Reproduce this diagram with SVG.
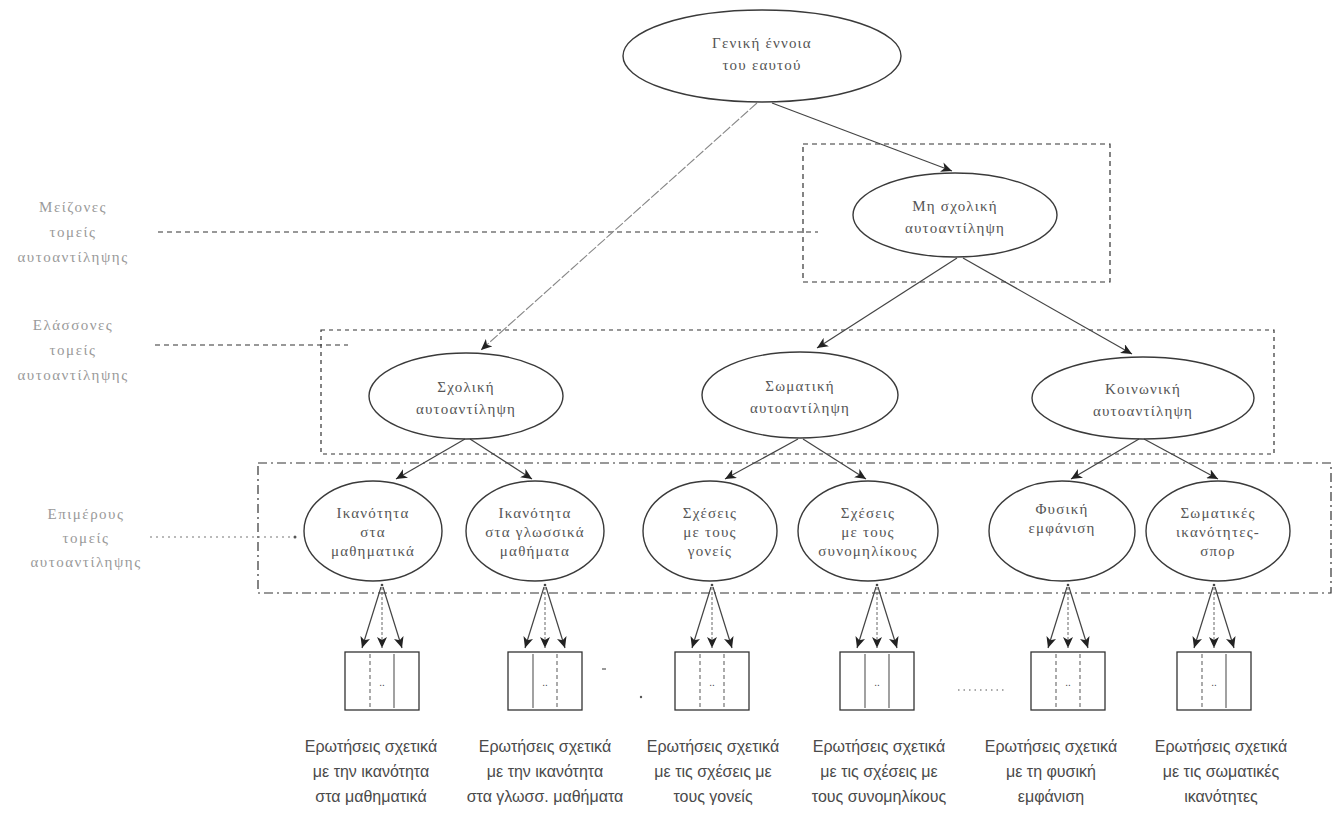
<svg xmlns="http://www.w3.org/2000/svg" width="1334" height="813" viewBox="0 0 1334 813">
<style>
.bg{fill:#fff}
.ell{fill:none;stroke:#3a3a3a;stroke-width:1.4}
.et{font-family:"Liberation Serif","DejaVu Serif",serif;font-size:15px;fill:#555;text-anchor:middle;letter-spacing:1.2px}
.lt{font-family:"Liberation Serif","DejaVu Serif",serif;font-size:15px;fill:#9a9a9a;text-anchor:middle;letter-spacing:1.5px}
.bt{font-family:"Liberation Sans","DejaVu Sans",sans-serif;font-size:16px;fill:#4a4a4a;text-anchor:middle}
.con{stroke:#444;stroke-width:1.2;fill:none}
.conl{stroke:#888;stroke-width:1.1;fill:none;stroke-dasharray:10 2}
.dash{stroke:#333;stroke-width:1.2;fill:none;stroke-dasharray:5 4}
.dashd{stroke:#333;stroke-width:1.2;fill:none;stroke-dasharray:4 4}
.dashdot{stroke:#333;stroke-width:1.2;fill:none;stroke-dasharray:9 4 2 4}
.dot{stroke:#777;stroke-width:1.2;fill:none;stroke-dasharray:2 4}
.box{fill:none;stroke:#333;stroke-width:1.3}
.inner{stroke:#555;stroke-width:1.1}
.innerd{stroke:#666;stroke-width:1.1;stroke-dasharray:4 3}
.mid{stroke:#666;stroke-width:1;stroke-dasharray:3 2;fill:none}
.dd{font-family:"Liberation Sans","DejaVu Sans",sans-serif;font-size:10px;fill:#444;text-anchor:middle}
</style>
<defs>
<marker id="ah" markerWidth="12" markerHeight="10" refX="11" refY="5" orient="auto" markerUnits="userSpaceOnUse">
<path d="M0,0 L11,5 L0,10 L3,5 z" fill="#222"/>
</marker>
</defs>
<rect class="bg" x="0" y="0" width="1334" height="813"/>

<g id="frames">
<rect class="dash" x="803" y="144" width="307" height="138"/>
<rect class="dashd" x="321" y="330" width="953" height="124"/>
<rect class="dashdot" x="258" y="463" width="1073" height="130"/>
</g>

<g id="level-labels">
<g id="label-major">
<text class="lt" x="73" y="212">Μείζονες</text>
<text class="lt" x="73" y="237">τομείς</text>
<text class="lt" x="73" y="262">αυτοαντίληψης</text>
<line class="dash" x1="158" y1="232" x2="818" y2="232"/>
</g>
<g id="label-minor">
<text class="lt" x="73" y="330">Ελάσσονες</text>
<text class="lt" x="73" y="355">τομείς</text>
<text class="lt" x="73" y="380">αυτοαντίληψης</text>
<line class="dash" x1="155" y1="345" x2="348" y2="345"/>
</g>
<g id="label-sub">
<text class="lt" x="86" y="519">Επιμέρους</text>
<text class="lt" x="86" y="543">τομείς</text>
<text class="lt" x="86" y="567">αυτοαντίληψης</text>
<line class="dot" x1="150" y1="537" x2="292" y2="537"/>
<circle cx="295" cy="537" r="1.5" fill="#555"/>
</g>
</g>

<g id="connectors">
<line class="conl" x1="757" y1="103" x2="481" y2="350" marker-end="url(#ah)"/>
<line class="con" x1="772" y1="103" x2="952" y2="171" marker-end="url(#ah)"/>
<line class="con" x1="957" y1="258" x2="817" y2="348" marker-end="url(#ah)"/>
<line class="con" x1="963" y1="258" x2="1132" y2="354" marker-end="url(#ah)"/>
<line class="con" x1="465" y1="439" x2="396" y2="479" marker-end="url(#ah)"/>
<line class="con" x1="470" y1="439" x2="532" y2="479" marker-end="url(#ah)"/>
<line class="con" x1="798" y1="439" x2="725" y2="479" marker-end="url(#ah)"/>
<line class="con" x1="803" y1="439" x2="866" y2="479" marker-end="url(#ah)"/>
<line class="con" x1="1139" y1="439" x2="1071" y2="479" marker-end="url(#ah)"/>
<line class="con" x1="1144" y1="439" x2="1218" y2="479" marker-end="url(#ah)"/>

<g id="fan-1">
<circle cx="382" cy="585" r="1.3" fill="#444"/>
<line class="con" x1="381" y1="587" x2="362" y2="648" marker-end="url(#ah)"/>
<line class="mid" x1="382" y1="587" x2="382" y2="648" marker-end="url(#ah)"/>
<line class="con" x1="383" y1="587" x2="402" y2="648" marker-end="url(#ah)"/>
</g>
<g id="fan-2">
<circle cx="545" cy="585" r="1.3" fill="#444"/>
<line class="con" x1="544" y1="587" x2="525" y2="648" marker-end="url(#ah)"/>
<line class="mid" x1="545" y1="587" x2="545" y2="648" marker-end="url(#ah)"/>
<line class="con" x1="546" y1="587" x2="565" y2="648" marker-end="url(#ah)"/>
</g>
<g id="fan-3">
<circle cx="712" cy="585" r="1.3" fill="#444"/>
<line class="con" x1="711" y1="587" x2="692" y2="648" marker-end="url(#ah)"/>
<line class="mid" x1="712" y1="587" x2="712" y2="648" marker-end="url(#ah)"/>
<line class="con" x1="713" y1="587" x2="732" y2="648" marker-end="url(#ah)"/>
</g>
<g id="fan-4">
<circle cx="877" cy="585" r="1.3" fill="#444"/>
<line class="con" x1="876" y1="587" x2="857" y2="648" marker-end="url(#ah)"/>
<line class="mid" x1="877" y1="587" x2="877" y2="648" marker-end="url(#ah)"/>
<line class="con" x1="878" y1="587" x2="897" y2="648" marker-end="url(#ah)"/>
</g>
<g id="fan-5">
<circle cx="1068" cy="585" r="1.3" fill="#444"/>
<line class="con" x1="1067" y1="587" x2="1048" y2="648" marker-end="url(#ah)"/>
<line class="mid" x1="1068" y1="587" x2="1068" y2="648" marker-end="url(#ah)"/>
<line class="con" x1="1069" y1="587" x2="1088" y2="648" marker-end="url(#ah)"/>
</g>
<g id="fan-6">
<circle cx="1214" cy="585" r="1.3" fill="#444"/>
<line class="con" x1="1213" y1="587" x2="1194" y2="648" marker-end="url(#ah)"/>
<line class="mid" x1="1214" y1="587" x2="1214" y2="648" marker-end="url(#ah)"/>
<line class="con" x1="1215" y1="587" x2="1234" y2="648" marker-end="url(#ah)"/>
</g>
</g>

<g id="node-general">
<ellipse class="ell" cx="762" cy="56" rx="139" ry="46"/>
<text class="et" x="762" y="48">Γενική έννοια</text>
<text class="et" x="762" y="70">του εαυτού</text>
</g>
<g id="node-nonacademic">
<ellipse class="ell" cx="955" cy="215" rx="102" ry="42"/>
<text class="et" x="955" y="211">Μη σχολική</text>
<text class="et" x="955" y="233">αυτοαντίληψη</text>
</g>
<g id="node-academic">
<ellipse class="ell" cx="466" cy="396" rx="97" ry="43"/>
<text class="et" x="466" y="392">Σχολική</text>
<text class="et" x="466" y="414">αυτοαντίληψη</text>
</g>
<g id="node-physical">
<ellipse class="ell" cx="800" cy="395" rx="98" ry="43"/>
<text class="et" x="800" y="391">Σωματική</text>
<text class="et" x="800" y="413">αυτοαντίληψη</text>
</g>
<g id="node-social">
<ellipse class="ell" cx="1143" cy="398" rx="111" ry="41"/>
<text class="et" x="1143" y="394">Κοινωνική</text>
<text class="et" x="1143" y="416">αυτοαντίληψη</text>
</g>

<g id="node-math">
<ellipse class="ell" cx="373" cy="531" rx="69" ry="50"/>
<text class="et" x="373" y="518">Ικανότητα</text>
<text class="et" x="373" y="537">στα</text>
<text class="et" x="373" y="556">μαθηματικά</text>
</g>
<g id="node-language">
<ellipse class="ell" cx="535" cy="531" rx="69" ry="50"/>
<text class="et" x="535" y="518">Ικανότητα</text>
<text class="et" x="535" y="537">στα γλωσσικά</text>
<text class="et" x="535" y="556">μαθήματα</text>
</g>
<g id="node-parents">
<ellipse class="ell" cx="710" cy="531" rx="67" ry="50"/>
<text class="et" x="710" y="518">Σχέσεις</text>
<text class="et" x="710" y="537">με τους</text>
<text class="et" x="710" y="556">γονείς</text>
</g>
<g id="node-peers">
<ellipse class="ell" cx="868" cy="531" rx="70" ry="50"/>
<text class="et" x="868" y="518">Σχέσεις</text>
<text class="et" x="868" y="537">με τους</text>
<text class="et" x="868" y="556">συνομηλίκους</text>
</g>
<g id="node-appearance">
<ellipse class="ell" cx="1062" cy="531" rx="73" ry="50"/>
<text class="et" x="1062" y="514">Φυσική</text>
<text class="et" x="1062" y="533">εμφάνιση</text>
</g>
<g id="node-ability">
<ellipse class="ell" cx="1218" cy="531" rx="72" ry="50"/>
<text class="et" x="1218" y="518">Σωματικές</text>
<text class="et" x="1218" y="537">ικανότητες-</text>
<text class="et" x="1218" y="556">σπορ</text>
</g>

<g id="items-1">
<rect class="box" x="345" y="652" width="74" height="58"/>
<line class="innerd" x1="370" y1="654" x2="370" y2="708"/>
<line class="inner" x1="394" y1="654" x2="394" y2="708"/>
<text class="dd" x="382" y="686">..</text>
<text class="bt" x="371" y="752">Ερωτήσεις σχετικά</text>
<text class="bt" x="371" y="777">με την ικανότητα</text>
<text class="bt" x="371" y="802">στα μαθηματικά</text>
</g>
<g id="items-2">
<rect class="box" x="508" y="652" width="74" height="58"/>
<line class="inner" x1="533" y1="654" x2="533" y2="708"/>
<line class="innerd" x1="557" y1="654" x2="557" y2="708"/>
<text class="dd" x="545" y="686">..</text>
<text class="bt" x="545" y="752">Ερωτήσεις σχετικά</text>
<text class="bt" x="545" y="777">με την ικανότητα</text>
<text class="bt" x="545" y="802">στα γλωσσ. μαθήματα</text>
</g>
<g id="items-3">
<rect class="box" x="675" y="652" width="74" height="58"/>
<line class="innerd" x1="700" y1="654" x2="700" y2="708"/>
<line class="innerd" x1="724" y1="654" x2="724" y2="708"/>
<text class="dd" x="712" y="686">..</text>
<text class="bt" x="713" y="752">Ερωτήσεις σχετικά</text>
<text class="bt" x="713" y="777">με τις σχέσεις με</text>
<text class="bt" x="713" y="802">τους γονείς</text>
</g>
<g id="items-4">
<rect class="box" x="840" y="652" width="74" height="58"/>
<line class="inner" x1="865" y1="654" x2="865" y2="708"/>
<line class="inner" x1="889" y1="654" x2="889" y2="708"/>
<text class="dd" x="877" y="686">..</text>
<text class="bt" x="879" y="752">Ερωτήσεις σχετικά</text>
<text class="bt" x="879" y="777">με τις σχέσεις με</text>
<text class="bt" x="879" y="802">τους συνομηλίκους</text>
</g>
<g id="items-5">
<rect class="box" x="1031" y="652" width="74" height="58"/>
<line class="innerd" x1="1056" y1="654" x2="1056" y2="708"/>
<line class="innerd" x1="1080" y1="654" x2="1080" y2="708"/>
<text class="dd" x="1068" y="686">..</text>
<text class="bt" x="1051" y="752">Ερωτήσεις σχετικά</text>
<text class="bt" x="1051" y="777">με τη φυσική</text>
<text class="bt" x="1051" y="802">εμφάνιση</text>
</g>
<g id="items-6">
<rect class="box" x="1177" y="652" width="74" height="58"/>
<line class="innerd" x1="1202" y1="654" x2="1202" y2="708"/>
<line class="inner" x1="1226" y1="654" x2="1226" y2="708"/>
<text class="dd" x="1214" y="686">..</text>
<text class="bt" x="1221" y="752">Ερωτήσεις σχετικά</text>
<text class="bt" x="1221" y="777">με τις σωματικές</text>
<text class="bt" x="1221" y="802">ικανότητες</text>
</g>

<g id="ellipsis-marks">
<line x1="602" y1="669" x2="606" y2="669" stroke="#555" stroke-width="1.2"/>
<circle cx="641" cy="697" r="1.2" fill="#555"/>
<line x1="958" y1="690" x2="1004" y2="690" stroke="#555" stroke-width="1.2" stroke-dasharray="1.5 4"/>
</g>
</svg>
